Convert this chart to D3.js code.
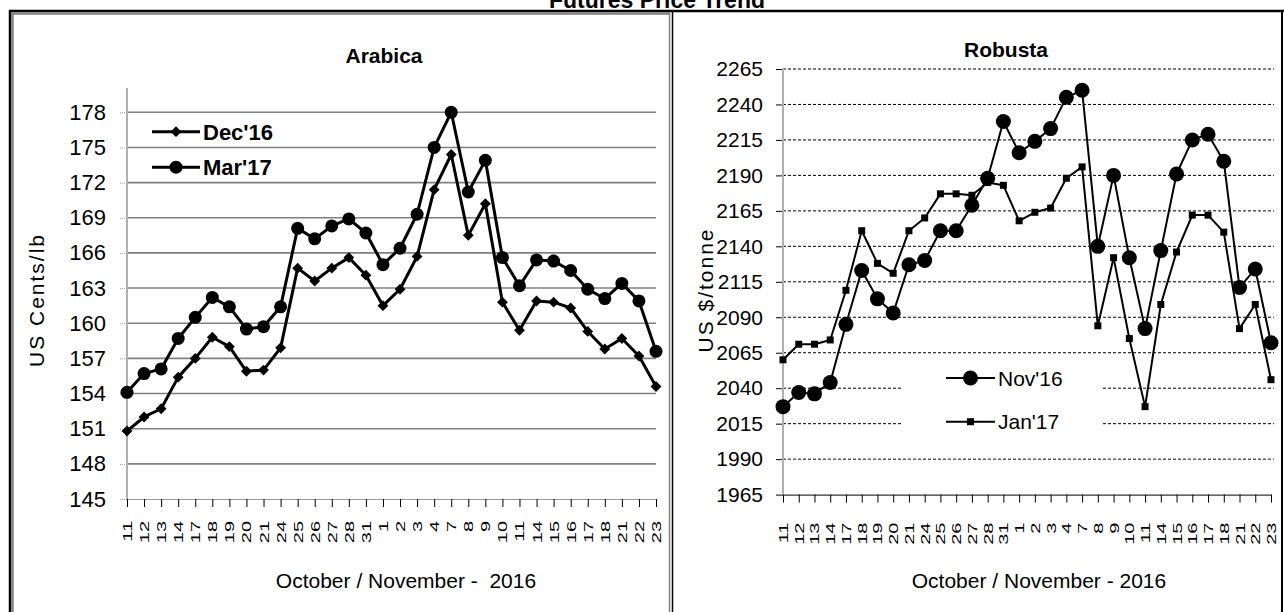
<!DOCTYPE html>
<html>
<head>
<meta charset="utf-8">
<script src="https://cdn.jsdelivr.net/npm/d3@7"></script>
<style>
  html, body { margin: 0; padding: 0; background: #fff; }
  svg { display: block; font-family: "Liberation Sans", Arial, sans-serif; }
</style>
</head>
<body>
<div id="chart"></div>
<script>
// trading days, Oct / Nov 2016
const dayLabels = ["11","12","13","14","17","18","19","20","21","24","25","26","27","28","31",
  "1","2","3","4","7","8","9","10","11","14","15","16","17","18","21","22","23"];

// Arabica, US cents/lb
const arabicaDec = [150.8,152.0,152.7,155.4,157.0,158.8,158.0,155.9,156.0,157.9,164.7,163.6,164.7,165.6,164.1,161.5,
  162.9,165.7,171.4,174.4,167.5,170.2,161.8,159.4,161.9,161.8,161.3,159.3,157.8,158.7,157.2,154.6];
const arabicaMar = [154.1,155.7,156.1,158.7,160.5,162.2,161.4,159.5,159.7,161.4,168.1,167.2,168.3,168.9,167.7,165.0,
  166.4,169.3,175.0,178.0,171.2,173.9,165.6,163.2,165.4,165.3,164.5,162.9,162.1,163.4,161.9,157.6];
const arabicaTicks = [145,148,151,154,157,160,163,166,169,172,175,178];

// Robusta, US $/tonne
const robustaNov = [2027,2037,2036,2044,2085,2123,2103,2093,2127,2130,2151,2151,2169,2188,2228,2206,
  2214,2223,2245,2250,2140,2190,2132,2082,2137,2191,2215,2219,2200,2111,2124,2072];
const robustaJan = [2060,2071,2071,2074,2109,2151,2128,2121,2151,2160,2177,2177,2176,2185,2183,2158,
  2164,2167,2188,2196,2084,2132,2075,2027,2099,2136,2162,2162,2150,2082,2099,2046];
const robustaTicks = [1965,1990,2015,2040,2065,2090,2115,2140,2165,2190,2215,2240,2265];

const W = 1284, H = 612;
const idx = d3.range(dayLabels.length);

const svg = d3.select("#chart").append("svg")
    .attr("width", W).attr("height", H);

// page title (cut at top like the source)
svg.append("text")
    .attr("x", 657).attr("y", 8)
    .attr("text-anchor", "middle")
    .attr("font-size", 23).attr("font-weight", "bold")
    .text("Futures Price Trend");

// frames
svg.append("line").attr("x1", 9).attr("x2", 1284).attr("y1", 11).attr("y2", 11)
    .attr("stroke", "#000").attr("stroke-width", 2.5);
svg.append("line").attr("x1", 10).attr("x2", 10).attr("y1", 10).attr("y2", H)
    .attr("stroke", "#000").attr("stroke-width", 2.5);
svg.append("line").attr("x1", 12).attr("x2", 670).attr("y1", 13.5).attr("y2", 13.5)
    .attr("stroke", "#808080").attr("stroke-width", 2.5);
svg.append("line").attr("x1", 12.5).attr("x2", 12.5).attr("y1", 13).attr("y2", H)
    .attr("stroke", "#808080").attr("stroke-width", 2.5);
svg.append("line").attr("x1", 669.5).attr("x2", 669.5).attr("y1", 12).attr("y2", H)
    .attr("stroke", "#808080").attr("stroke-width", 1.5);
svg.append("line").attr("x1", 672.5).attr("x2", 672.5).attr("y1", 11).attr("y2", H)
    .attr("stroke", "#000").attr("stroke-width", 1.5);
svg.append("line").attr("x1", 1282).attr("x2", 1282).attr("y1", 11).attr("y2", H)
    .attr("stroke", "#000").attr("stroke-width", 2);

function drawPanel(o) {
  const g = svg.append("g");
  const x = d3.scalePoint(idx, o.xRange);
  const y = d3.scaleLinear(o.yDomain, o.yRange);

  // gridlines
  g.append("g").selectAll("line")
    .data(o.ticks.slice(1))
    .join("line")
      .attr("x1", o.xRange[0]).attr("x2", o.gridEnd)
      .attr("y1", d => y(d)).attr("y2", d => y(d))
      .attr("stroke", o.gridColor)
      .attr("stroke-width", o.gridWidth)
      .attr("stroke-dasharray", o.gridDash);

  // y axis
  const ya = g.append("g")
      .attr("transform", `translate(${o.xRange[0]},0)`)
      .call(d3.axisLeft(y).tickValues(o.ticks).tickFormat(d3.format("d")).tickSize(7).tickPadding(o.yPad));
  ya.select(".domain").remove();
  ya.selectAll(".tick line").attr("stroke", o.yTickColor).attr("stroke-dasharray", o.yTickDash);
  ya.selectAll(".tick text")
      .attr("font-size", o.yFont).attr("font-family", "Liberation Sans, Arial, sans-serif")
      .attr("fill", "#000");
  g.append("line")
      .attr("x1", o.xRange[0]).attr("x2", o.xRange[0])
      .attr("y1", o.axisTop).attr("y2", y(o.yDomain[0]))
      .attr("stroke", "#b0b0b0").attr("stroke-width", 2);

  // x axis
  const xa = g.append("g")
      .attr("transform", `translate(0,${y(o.yDomain[0])})`)
      .call(d3.axisBottom(x).tickSize(8).tickSizeOuter(0).tickFormat(i => dayLabels[i]));
  xa.select(".domain").attr("stroke", o.xAxisColor);
  xa.selectAll(".tick line").attr("stroke", "#000");
  xa.selectAll(".tick text")
      .attr("x", 0).attr("y", 0).attr("dy", "0.36em")
      .attr("text-anchor", "end")
      .attr("font-size", 12.5).attr("font-family", "Liberation Sans, Arial, sans-serif")
      .attr("fill", "#000")
      .attr("transform", `translate(0,${o.labelGap}) rotate(-90) scale(1.6,1)`);

  // legend box (robusta hides grid behind it)
  if (o.legendBox) {
    g.append("rect").attr("x", o.legendBox[0]).attr("y", o.legendBox[1])
      .attr("width", o.legendBox[2]).attr("height", o.legendBox[3]).attr("fill", "#fff");
  }

  // series
  const line = d3.line().x((d, i) => x(i)).y(d => y(d));
  o.series.forEach(s => {
    g.append("path").datum(s.values)
        .attr("d", line)
        .attr("fill", "none").attr("stroke", "#000")
        .attr("stroke-width", o.lineWidth).attr("stroke-linejoin", "round");
    g.append("g").selectAll("path")
      .data(s.values)
      .join("path")
        .attr("transform", (d, i) => `translate(${x(i)},${y(d)})`)
        .attr("d", d3.symbol(s.shape, s.size))
        .attr("fill", "#000");
  });

  // legend
  o.series.forEach((s, k) => {
    const ly = o.legend.y + k * o.legend.dy;
    g.append("line").attr("x1", o.legend.x).attr("x2", o.legend.x + o.legend.len)
      .attr("y1", ly).attr("y2", ly).attr("stroke", "#000").attr("stroke-width", o.lineWidth);
    g.append("path").attr("transform", `translate(${o.legend.x + o.legend.len / 2},${ly})`)
      .attr("d", d3.symbol(s.shape, s.size)).attr("fill", "#000");
    g.append("text").attr("x", o.legend.x + o.legend.len + 3).attr("y", ly)
      .attr("dy", "0.36em")
      .attr("font-size", o.legend.font).attr("font-weight", o.legend.weight)
      .text(s.name);
  });

  // titles
  g.append("text").attr("x", o.title.x).attr("y", o.title.y)
    .attr("text-anchor", "middle").attr("font-size", 21).attr("font-weight", "bold")
    .text(o.title.text);
  g.append("text")
    .attr("transform", `translate(${o.yTitle.x},${o.yTitle.y}) rotate(-90)`)
    .attr("text-anchor", "middle").attr("font-size", 21)
    .attr("letter-spacing", o.yTitle.ls)
    .text(o.yTitle.text);
  g.append("text").attr("x", o.xTitle.x).attr("y", 588)
    .attr("text-anchor", "middle").attr("font-size", 21)
    .style("white-space", "pre")
    .text(o.xTitle.text);
}

drawPanel({
  xRange: [127, 656], yDomain: [145, 178], yRange: [499, 112.3],
  ticks: arabicaTicks, gridEnd: 656, gridColor: "#808080", gridWidth: 1.6, gridDash: null,
  yPad: 14, yFont: 22, yTickColor: "#999", yTickDash: "1,1", axisTop: 88,
  xAxisColor: "#999", labelGap: 22,
  lineWidth: 3,
  series: [
    {name: "Dec'16", values: arabicaDec, shape: d3.symbolDiamond2, size: 75},
    {name: "Mar'17", values: arabicaMar, shape: d3.symbolCircle, size: Math.PI * 6.5 * 6.5}
  ],
  legend: {x: 152, y: 131.7, dy: 35.5, len: 48, font: 22, weight: "bold"},
  title: {x: 384, y: 63, text: "Arabica"},
  yTitle: {x: 44, y: 300, text: "US Cents/lb", ls: 2},
  xTitle: {x: 406, text: "October / November -  2016"}
});

drawPanel({
  xRange: [783, 1271], yDomain: [1965, 2265], yRange: [494.6, 69],
  ticks: robustaTicks, gridEnd: 1274, gridColor: "#000", gridWidth: 1, gridDash: "3,2",
  yPad: 13, yFont: 21, yTickColor: "#000", yTickDash: null, axisTop: 69,
  xAxisColor: "#000", labelGap: 28,
  lineWidth: 2,
  series: [
    {name: "Nov'16", values: robustaNov, shape: d3.symbolCircle, size: Math.PI * 7.5 * 7.5},
    {name: "Jan'17", values: robustaJan, shape: d3.symbolSquare, size: 49}
  ],
  legendBox: [903, 358, 200, 90],
  legend: {x: 946, y: 378, dy: 43.7, len: 49, font: 21, weight: "normal"},
  title: {x: 1006, y: 57, text: "Robusta"},
  yTitle: {x: 713, y: 290, text: "US $/tonne", ls: 2},
  xTitle: {x: 1039, text: "October / November - 2016"}
});
</script>
</body>
</html>
